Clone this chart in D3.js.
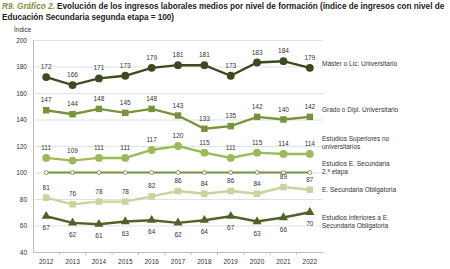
<!DOCTYPE html>
<html>
<head>
<meta charset="utf-8">
<script src="https://cdn.jsdelivr.net/npm/d3@7.9.0/dist/d3.min.js"></script>
<style>
  body { margin: 0; background: #fff; }
  svg { display: block; font-family: "Liberation Sans", Arial, sans-serif; }
</style>
</head>
<body>
<svg id="chart" width="450" height="269"></svg>
<script>
const years = ['2012', '2013', '2014', '2015', '2016', '2017', '2018', '2019', '2020', '2021', '2022'];
const yTicks = [40, 60, 80, 100, 120, 140, 160, 180, 200];

const master = [172, 166, 171, 173, 179, 181, 181, 173, 183, 184, 179];
const grado = [147, 144, 148, 145, 148, 143, 133, 135, 142, 140, 142];
const superiores = [111, 109, 111, 111, 117, 120, 115, 111, 115, 114, 114];
const secundaria2 = [100, 100, 100, 100, 100, 100, 100, 100, 100, 100, 100];
const obligatoria = [81, 76, 78, 78, 82, 86, 84, 86, 84, 89, 87];
const inferiores = [67, 62, 61, 63, 64, 62, 64, 67, 63, 66, 70];

const series = [
  { name: ['Máster o Lic. Universitario'], values: master, color: '#3b4b1f', marker: 'circle', labels: 'above', ly: 66 },
  { name: ['Grado o Dipl. Universitario'], values: grado, color: '#77933c', marker: 'square', labels: 'above', ly: 112 },
  { name: ['Estudios Superiores no', 'universitarios'], values: superiores, color: '#9bbb59', marker: 'circle', labels: 'above', ly: 141 },
  { name: ['Estudios E. Secundaria', '2.ª etapa'], values: secundaria2, color: '#77933c', marker: 'hollow', labels: 'none', ly: 166 },
  { name: ['E. Secundaria Obligatoria'], values: obligatoria, color: '#c3d69b', marker: 'square', labels: 'above', ly: 192 },
  { name: ['Estudios inferiores a E.', 'Secundaria Obligatoria'], values: inferiores, color: '#4f6228', marker: 'triangle', labels: 'below', ly: 220 },
];

const svg = d3.select('#chart');

// title
const title = svg.append('text').attr('x', 2).attr('y', 9)
  .style('font-size', '8.2px').style('font-weight', 'bold');
title.append('tspan').attr('fill', '#77933c').style('font-style', 'italic').text('R9. Gráfico 2.');
title.append('tspan').attr('fill', '#222').text(' Evolución de los ingresos laborales medios por nivel de formación (índice de ingresos con nivel de');
svg.append('text').attr('x', 2).attr('y', 20)
  .attr('textLength', 172).attr('lengthAdjust', 'spacing')
  .style('font-size', '8.2px').style('font-weight', 'bold')
  .attr('fill', '#222').text('Educación Secundaria segunda etapa = 100)');

svg.append('text').attr('x', 14).attr('y', 32).style('font-size', '6.5px').attr('fill', '#333').text('Índice');

const x = d3.scaleBand().domain(years).range([33, 323]);
const y = d3.scaleLinear().domain([40, 200]).range([252, 40]);
const cx = (d, i) => x(years[i]) + x.bandwidth() / 2;

// gridlines
svg.append('g')
  .attr('transform', 'translate(33,0)')
  .call(d3.axisLeft(y).tickValues(yTicks.slice(1)).tickFormat('').tickSize(-290))
  .call(g => g.select('.domain').remove())
  .call(g => g.selectAll('line').attr('stroke', '#d9d9d9').attr('stroke-width', 0.8));

// y axis
svg.append('g')
  .attr('transform', 'translate(33,0)')
  .call(d3.axisLeft(y).tickValues(yTicks).tickSize(0).tickPadding(6))
  .call(g => g.select('.domain').attr('stroke', '#bfbfbf'))
  .call(g => g.selectAll('text').style('font-size', '6.5px').attr('fill', '#333'));

// x axis
svg.append('g')
  .attr('transform', 'translate(0,252)')
  .call(d3.axisBottom(x).tickSize(0).tickPadding(7))
  .call(g => g.select('.domain').attr('stroke', '#bfbfbf'))
  .call(g => g.selectAll('text').style('font-size', '6.5px').attr('fill', '#333'));

// small ticks between bands
svg.append('g').selectAll('line')
  .data(years.slice(1))
  .join('line')
  .attr('x1', d => x(d)).attr('x2', d => x(d))
  .attr('y1', 252).attr('y2', 255)
  .attr('stroke', '#bfbfbf');

const line = d3.line().x(cx).y(d => y(d));

series.forEach(s => {
  const g = svg.append('g');
  g.append('path')
    .attr('d', line(s.values))
    .attr('fill', 'none')
    .attr('stroke', s.color)
    .attr('stroke-width', s.marker === 'hollow' ? 2 : 2.4);

  const pts = g.selectAll('.pt').data(s.values).join('path')
    .attr('transform', (d, i) => `translate(${cx(d, i)},${y(d)})`);
  if (s.marker === 'circle') {
    pts.attr('d', d3.symbol(d3.symbolCircle, 48)).attr('fill', s.color);
  } else if (s.marker === 'square') {
    pts.attr('d', d3.symbol(d3.symbolSquare, 42)).attr('fill', s.color);
  } else if (s.marker === 'triangle') {
    pts.attr('d', d3.symbol(d3.symbolTriangle, 36)).attr('fill', s.color);
  } else {
    pts.attr('d', d3.symbol(d3.symbolCircle, 12)).attr('fill', '#fff')
      .attr('stroke', s.color).attr('stroke-width', 0.9);
  }

  if (s.labels !== 'none') {
    g.selectAll('.lab').data(s.values).join('text')
      .attr('x', cx)
      .attr('y', d => y(d) + (s.labels === 'above' ? -8 : 14))
      .attr('text-anchor', 'middle')
      .style('font-size', '6.5px')
      .attr('fill', '#333')
      .text(d => d);
  }

  const lt = svg.append('text').attr('x', 322).attr('y', s.ly)
    .style('font-size', '6.5px').attr('fill', '#333');
  s.name.forEach((t, i) => lt.append('tspan').attr('x', 322).attr('dy', i ? 7.5 : 0).text(t));
});
</script>
</body>
</html>
